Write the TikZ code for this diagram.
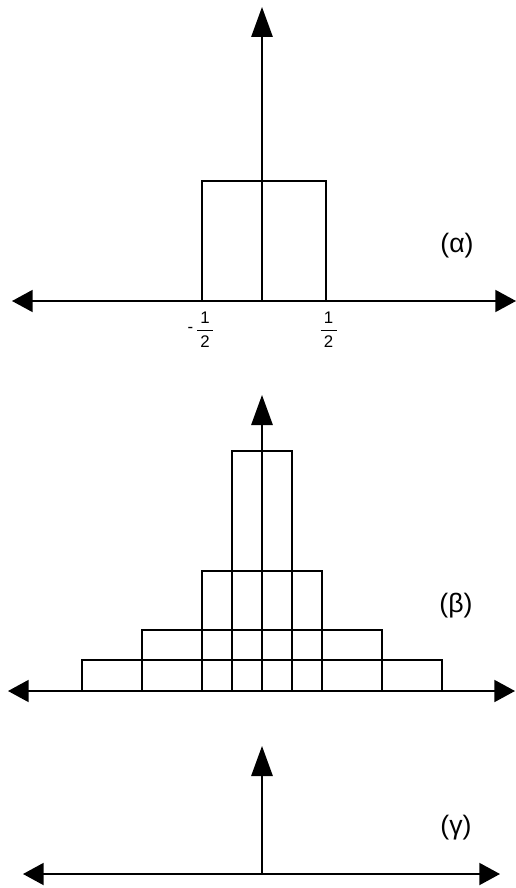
\documentclass[tikz,border=0pt]{standalone}
\usepackage{amsmath}
\usepackage{fontspec}
\setmainfont{Liberation Sans}
\usetikzlibrary{arrows.meta}

\newcommand{\halffrac}{\genfrac{}{}{1.1pt}{0}{\hbox to 12pt{\hss 1\hss}}{\hbox to 12pt{\hss 2\hss}}}

\begin{document}
\begin{tikzpicture}[
    % Global options: pixel-like units, y grows downwards
    x=0.75pt, y=-0.75pt,
    line width=1.4pt,
    vtip/.tip={Triangle[length=22.5pt, width=16pt]},
    htip/.tip={Triangle[length=15.5pt, width=16.5pt]},
    axis/.style={{htip}-{htip}},
    upaxis/.style={-{vtip}},
    caption/.style={font=\fontsize{20}{24}\selectfont},
    tick/.style={font=\fontsize{12.6}{15}\selectfont, inner sep=0pt},
  ]
    \useasboundingbox (0,0) rectangle (515,888);

    % --- (alpha): single box ---
    \coordinate (aorig) at (262,301);
    \coordinate (aleft) at (12,301);
    \coordinate (aright) at (516,301);
    \coordinate (atop) at (262,7);
    \draw (202,301) rectangle (326,181);
    \draw[axis] (aleft) -- (aright);
    \draw[upaxis] (aorig) -- (atop);
    \node[caption] (alabel) at (457,246) {(α)};
    \node[tick] (aminus) at (190.5,330) {-};
    \node[tick] (ahalfl) at (205,330) {$\halffrac$};
    \node[tick] (ahalfr) at (328.5,330) {$\halffrac$};

    % --- (beta): stacked boxes ---
    \coordinate (borig) at (262,691);
    \coordinate (bleft) at (8,691);
    \coordinate (bright) at (515,691);
    \coordinate (btop) at (262,395);
    \foreach \w/\h in {30/240, 60/120, 120/61, 180/31}
      \draw (262-\w,691) rectangle (262+\w,691-\h);
    \draw[axis] (bleft) -- (bright);
    \draw[upaxis] (borig) -- (btop);
    \node[caption] (blabel) at (456,606) {(β)};

    % --- (gamma): axes only ---
    \coordinate (gorig) at (262,874);
    \coordinate (gleft) at (23,874);
    \coordinate (gright) at (500,874);
    \coordinate (gtop) at (262,746);
    \draw[axis] (gleft) -- (gright);
    \draw[upaxis] (gorig) -- (gtop);
    \node[caption] (glabel) at (456,828) {(γ)};
  \end{tikzpicture}
\end{document}
